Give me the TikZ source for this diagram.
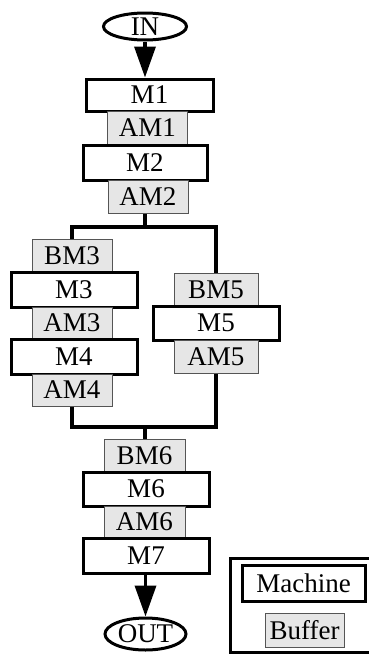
\documentclass[tikz,border=0pt]{standalone}
\usepackage{fontspec}
\setmainfont{Liberation Serif}
\usetikzlibrary{shapes.geometric,arrows.meta}
\definecolor{buffill}{HTML}{E6E6E6}
\definecolor{bufline}{HTML}{555555}
\tikzset{
  machine/.style={draw=black, line width=3pt, fill=white, inner sep=0pt,
    minimum width=126pt, minimum height=34pt, font=\fontsize{27}{30}\selectfont},
  buffer/.style={draw=bufline, line width=1pt, fill=buffill, inner sep=0pt,
    minimum width=80pt, minimum height=33pt, font=\fontsize{27}{30}\selectfont},
  terminal/.style={ellipse, draw=black, line width=3pt, fill=white, inner sep=0pt,
    font=\fontsize{27}{30}\selectfont},
  conn/.style={draw=black, line width=3.5pt, line join=miter},
  bigarrow/.style={conn, -{Triangle[width=21pt,length=31pt]}}
}
\begin{document}
\begin{tikzpicture}[x=1pt,y=-1pt]
\useasboundingbox (0,0) rectangle (369,654);
% legend frame (clipped at right)
\begin{scope}
\clip (0,0) rectangle (369,654);
\draw[line width=3pt] (230,558) rectangle (374,652);
\end{scope}
% nodes
\node[terminal, minimum width=83pt, minimum height=27pt] (in) at (145,26.5) {IN};
\node[machine, minimum width=127pt, minimum height=32pt] (m1) at (149.5,95) {M1};
\node[buffer, minimum height=34pt] (am1) at (147.5,128) {AM1};
\node[machine, minimum width=124pt, minimum height=35pt] (m2) at (145,162.5) {M2};
\node[buffer] (am2) at (148,196.5) {AM2};

\node[buffer] (bm3) at (72,255.5) {BM3};
\node[machine, minimum height=35pt] (m3) at (74,289.5) {M3};
\node[buffer, minimum height=32pt] (am3) at (72,323) {AM3};
\node[machine, minimum height=35pt] (m4) at (74,356.5) {M4};
\node[buffer, minimum height=32pt] (am4) at (72,390) {AM4};

\node[buffer, minimum width=84pt] (bm5) at (216,289.5) {BM5};
\node[machine] (m5) at (216,323) {M5};
\node[buffer, minimum width=84pt] (am5) at (216,356.5) {AM5};

\node[buffer, minimum width=81pt] (bm6) at (144.5,455.5) {BM6};
\node[machine] (m6) at (146,489) {M6};
\node[buffer, minimum width=81pt, minimum height=32pt] (am6) at (144.5,522) {AM6};
\node[machine, minimum height=35pt] (m7) at (146,555.5) {M7};
\node[terminal, minimum width=81pt, minimum height=32pt] (out) at (145.5,634) {OUT};

% legend
\node[machine, minimum width=123pt, minimum height=36pt] (lm) at (303.5,583) {Machine};
\node[buffer, minimum width=79pt, minimum height=34pt] (lb) at (304.5,630) {Buffer};

% connectors
\coordinate (split) at (145,227);
\coordinate (join) at (145,427);
\draw[bigarrow] (in.south) -- (in.south |- m1.north);
\draw[conn] (split |- am2.south) -- (split);
\draw[conn] (bm3.north) |- (split) -| (bm5.north);
\draw[conn] (am4.south) |- (join) -| (am5.south);
\draw[conn] (join) -- (join |- bm6.north);
\draw[bigarrow] (out.north |- m7.south) -- (out.north);
\end{tikzpicture}
\end{document}
